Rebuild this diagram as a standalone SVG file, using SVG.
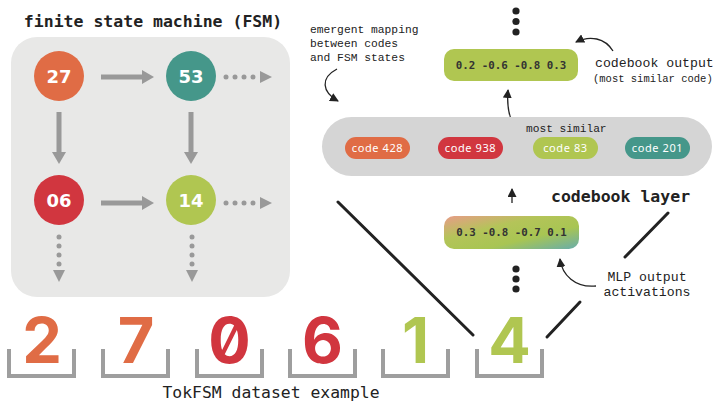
<svg xmlns="http://www.w3.org/2000/svg" width="714" height="402" viewBox="0 0 714 402">
<style>
.title{font-family:"DejaVu Sans Mono","Liberation Mono",monospace;font-weight:bold;font-size:16.5px;fill:#222}
.cap{font-family:"DejaVu Sans Mono","Liberation Mono",monospace;font-size:16.4px;fill:#222}
.lbl{font-family:"Liberation Mono","DejaVu Sans Mono",monospace;fill:#222}
.state{font-family:"DejaVu Sans",sans-serif;font-weight:bold;font-size:18px;fill:#fff;text-anchor:middle}
.digit{font-family:Inter,"DejaVu Sans",sans-serif;font-weight:700;font-size:63px;text-anchor:middle;font-feature-settings:"zero" 1}
.code{font-family:"Noto Sans","DejaVu Sans",sans-serif;font-size:11px;fill:#fff;text-anchor:middle;letter-spacing:0.6px}
.vec{font-family:"DejaVu Sans Mono",monospace;font-weight:bold;font-size:10.8px;fill:#333;text-anchor:middle}
.solid{stroke:#999;stroke-width:5;fill:none}
.dot{fill:#999}
.tray{stroke:#9e9e9e;stroke-width:4;fill:none}
.funnel{stroke:#222;stroke-width:3;stroke-linecap:round;fill:none}
.curve{stroke:#222;stroke-width:1.3;fill:none}
.orange{fill:#e06c45}.red{fill:#d1363f}.green{fill:#b0c651}.teal{fill:#45978a}
</style>
<defs>
<marker id="headS" markerUnits="userSpaceOnUse" markerWidth="13" markerHeight="14" refX="1" refY="7" orient="auto"><path d="M0,0 L12,7 L0,14 z" fill="#999"/></marker>
<marker id="headK" markerUnits="userSpaceOnUse" markerWidth="10" markerHeight="9" refX="8" refY="4.5" orient="auto"><path d="M0,0 L9,4.5 L0,9 z" fill="#222"/></marker>
<linearGradient id="grad" x1="0" y1="0" x2="1" y2="1">
<stop offset="0" stop-color="#e89c88"/>
<stop offset="0.35" stop-color="#b4c459"/>
<stop offset="0.65" stop-color="#a8c553"/>
<stop offset="1" stop-color="#68adab"/>
</linearGradient>
</defs>

<rect width="714" height="402" fill="#fff"/>

<!-- FSM -->
<g id="fsm-panel">
<text class="title" x="153" y="27" text-anchor="middle">finite state machine (FSM)</text>
<rect x="11" y="37" width="279" height="260" rx="26" fill="#e8e8e7"/>
</g>

<g id="connectors">
<line class="solid" x1="101" y1="77" x2="143" y2="77" marker-end="url(#headS)"/>
<line class="solid" x1="101" y1="203" x2="143" y2="203" marker-end="url(#headS)"/>
<line class="solid" x1="59" y1="112" x2="59" y2="153" marker-end="url(#headS)"/>
<line class="solid" x1="191" y1="112" x2="191" y2="153" marker-end="url(#headS)"/>

<g class="dot">
<circle cx="226" cy="77" r="2.5"/><circle cx="235" cy="77" r="2.5"/><circle cx="244" cy="77" r="2.5"/><circle cx="253" cy="77" r="2.5"/>
<path d="M260,71 L272,77 L260,83 z"/>
<circle cx="226" cy="203" r="2.5"/><circle cx="235" cy="203" r="2.5"/><circle cx="244" cy="203" r="2.5"/><circle cx="253" cy="203" r="2.5"/>
<path d="M260,197 L272,203 L260,209 z"/>
<circle cx="59" cy="237" r="2.5"/><circle cx="59" cy="246" r="2.5"/><circle cx="59" cy="255" r="2.5"/><circle cx="59" cy="264" r="2.5"/>
<path d="M53,270 L59,282 L65,270 z"/>
<circle cx="192" cy="237" r="2.5"/><circle cx="192" cy="246" r="2.5"/><circle cx="192" cy="255" r="2.5"/><circle cx="192" cy="264" r="2.5"/>
<path d="M186,270 L192,282 L198,270 z"/>
</g>

<line class="funnel" x1="338" y1="202" x2="473" y2="335"/>
<line class="funnel" x1="547" y1="337" x2="580" y2="302"/>
<line class="funnel" x1="625" y1="257" x2="668" y2="213"/>

<line class="curve" x1="512" y1="203" x2="512" y2="189" marker-end="url(#headK)"/>
<path class="curve" d="M527,144 C512,130 506,112 508,90" marker-end="url(#headK)"/>
<path class="curve" d="M613,51 C605,38 590,35 576,42" marker-end="url(#headK)"/>
<path class="curve" d="M337,69 C320,78 322,92 338,101" marker-end="url(#headK)"/>
<path class="curve" d="M596,286 C575,288 562,275 560,259" marker-end="url(#headK)"/>
</g>

<g id="state-27"><circle cx="59" cy="76" r="25" class="orange"/><text class="state" x="59" y="82.5">27</text></g>
<g id="state-53"><circle cx="191" cy="76" r="25" class="teal"/><text class="state" x="191" y="82.5">53</text></g>
<g id="state-06"><circle cx="59" cy="200" r="25" class="red"/><text class="state" x="59" y="206.5">06</text></g>
<g id="state-14"><circle cx="191" cy="200" r="25" class="green"/><text class="state" x="191" y="206.5">14</text></g>

<!-- codebook -->
<g id="codebook-layer">
<rect x="322" y="117" width="390" height="59" rx="29.5" fill="#d5d5d5"/>
<text class="lbl" x="526" y="132" font-size="11.2">most similar</text>
<text class="title" x="551" y="202">codebook layer</text>
</g>
<g id="code-428"><rect x="345" y="137" width="65" height="22" rx="11" class="orange"/><text class="code" x="377.5" y="152">code 428</text></g>
<g id="code-938"><rect x="438" y="137" width="65" height="22" rx="11" class="red"/><text class="code" x="470.5" y="152">code 938</text></g>
<g id="code-83"><rect x="533" y="137" width="65" height="22" rx="11" class="green"/><text class="code" x="565.5" y="152">code 83</text></g>
<g id="code-201"><rect x="625" y="137" width="65" height="22" rx="11" class="teal"/><text class="code" x="657.5" y="152">code 201</text></g>

<g id="codebook-output">
<rect x="444" y="49" width="134" height="32" rx="10" class="green"/>
<text class="vec" x="511" y="69">0.2 -0.6 -0.8 0.3</text>
<circle cx="516" cy="11" r="3.6" fill="#222"/>
<circle cx="516" cy="21.5" r="3.6" fill="#222"/>
<circle cx="516" cy="32" r="3.6" fill="#222"/>
<text class="lbl" x="595" y="67" font-size="13.2">codebook output</text>
<text class="lbl" x="593" y="82" font-size="10.5">(most similar code)</text>
</g>

<g id="mapping-note">
<text class="lbl" font-size="11.3"><tspan x="310" y="33">emergent mapping</tspan><tspan x="310" y="47">between codes</tspan><tspan x="310" y="61">and FSM states</tspan></text>
</g>

<g id="mlp-output">
<rect x="444" y="216" width="135" height="33" rx="10" fill="url(#grad)"/>
<text class="vec" x="511.5" y="236">0.3 -0.8 -0.7 0.1</text>
<circle cx="516" cy="269" r="3.6" fill="#222"/>
<circle cx="516" cy="279" r="3.6" fill="#222"/>
<circle cx="516" cy="289" r="3.6" fill="#222"/>
<text class="lbl" x="647" y="281" font-size="13.2" text-anchor="middle">MLP output</text>
<text class="lbl" x="647" y="296" font-size="13.2" text-anchor="middle">activations</text>
</g>

<!-- dataset -->
<g id="token-2"><path class="tray" d="M9,349 V376 H74 V349"/><text class="digit orange" x="42" y="363">2</text></g>
<g id="token-7"><path class="tray" d="M103,349 V376 H168 V349"/><text class="digit orange" x="136" y="363">7</text></g>
<g id="token-0"><path class="tray" d="M197,349 V376 H262 V349"/><text class="digit red" x="229.5" y="363">0</text></g>
<g id="token-6"><path class="tray" d="M290,349 V376 H355 V349"/><text class="digit red" x="322.5" y="363">6</text></g>
<g id="token-1"><path class="tray" d="M383,349 V376 H448 V349"/><text class="digit green" x="415.5" y="363">1</text></g>
<g id="token-4"><path class="tray" d="M477,349 V376 H542 V349" stroke="#2a2a2a"/><text class="digit green" x="509.5" y="363">4</text></g>
<text class="cap" x="271" y="398" text-anchor="middle">TokFSM dataset example</text>
</svg>
